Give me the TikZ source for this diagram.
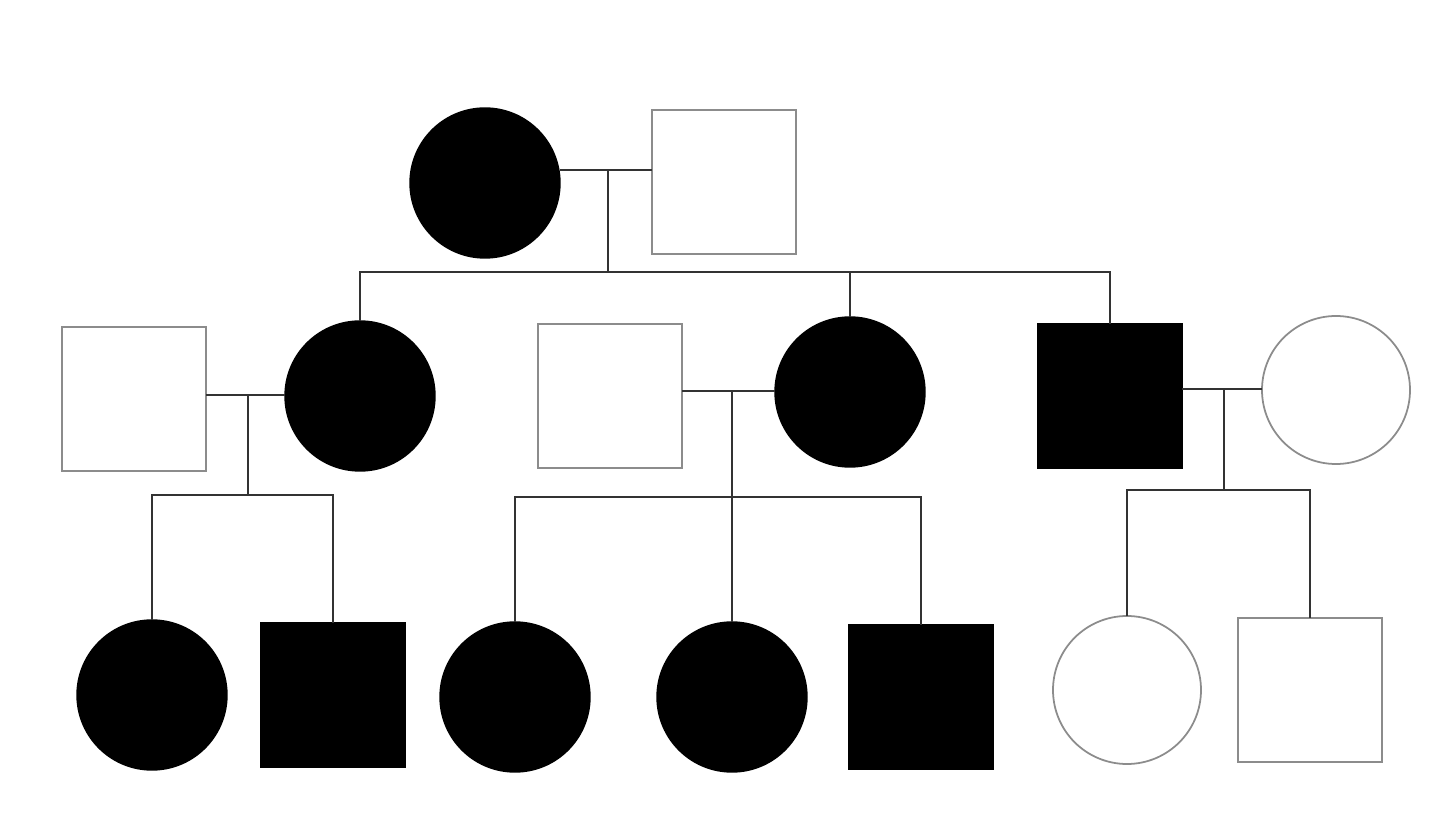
\documentclass[tikz,border=0pt]{standalone}
\usetikzlibrary{positioning}

\tikzset{
	female/.style={shape=circle, minimum size=1.5cm, inner sep=0pt, outer sep=0pt},
	male/.style={shape=rectangle, minimum size=1.44cm, inner sep=0pt, outer sep=0pt},
	aff/.style={fill=black, draw=black},
	unaff/.style={fill=white, draw=black!45, line width=0.5pt},
	line/.style={draw=black!80, line width=0.7pt}
}

\begin{document}
\begin{tikzpicture}

	\useasboundingbox (0,0) rectangle (14.4,8.28);

	%first generation
	\node[female, aff] (g1f) at (4.85,6.45) {};
	\node[male, unaff] (g1m) at (7.24,6.46) {};

	%second generation
	\node[male, unaff] (g2m1) at (1.34,4.29) {};
	\node[female, aff] (g2f1) at (3.60,4.32) {};
	\node[male, unaff] (g2m2) at (6.10,4.32) {};
	\node[female, aff] (g2f2) at (8.50,4.36) {};
	\node[male, aff] (g2m3) at (11.10,4.32) {};
	\node[female, unaff, minimum size=1.48cm] (g2f3) at (13.36,4.38) {};

	%third generation
	\node[female, aff] (g3a) at (1.52,1.33) {};
	\node[male, aff] (g3b) at (3.33,1.33) {};
	\node[female, aff] (g3c) at (5.15,1.31) {};
	\node[female, aff] (g3d) at (7.32,1.31) {};
	\node[male, aff] (g3e) at (9.21,1.31) {};
	\node[female, unaff, minimum size=1.48cm] (g3f) at (11.27,1.38) {};
	\node[male, unaff] (g3g) at (13.10,1.38) {};

	%couples and sibship lines
	\coordinate (c1) at (6.08,6.58);
	\coordinate (s1) at (6.08,5.56);
	\draw[line] (c1 -| g1f.east) -- (c1 -| g1m.west);
	\draw[line] (c1) -- (s1);
	\draw[line] (g2f1.north) |- (s1) -| (g2m3.north);
	\draw[line] (s1 -| g2f2.north) -- (g2f2.north);

	\coordinate (c2) at (2.48,4.33);
	\coordinate (s2) at (2.48,3.33);
	\draw[line] (c2 -| g2m1.east) -- (c2 -| g2f1.west);
	\draw[line] (c2) -- (s2);
	\draw[line] (g3a.north) |- (s2) -| (g3b.north);

	\coordinate (c3) at (7.32,4.37);
	\coordinate (s3) at (7.32,3.31);
	\draw[line] (c3 -| g2m2.east) -- (c3 -| g2f2.west);
	\draw[line] (c3) -- (g3d.north);
	\draw[line] (g3c.north) |- (s3) -| (g3e.north);

	\coordinate (c4) at (12.24,4.39);
	\coordinate (s4) at (12.24,3.38);
	\draw[line] (c4 -| g2m3.east) -- (c4 -| g2f3.west);
	\draw[line] (c4) -- (s4);
	\draw[line] (g3f.north) |- (s4) -| (g3g.north);

\end{tikzpicture}
\end{document}
